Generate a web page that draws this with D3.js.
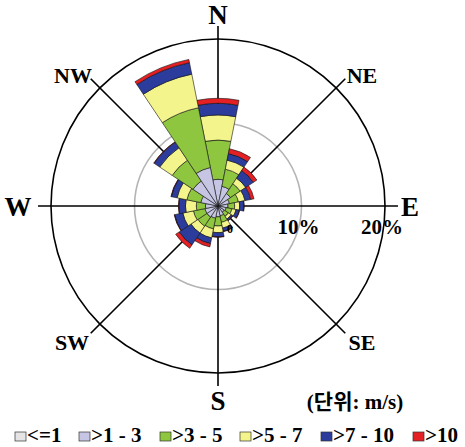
<!DOCTYPE html>
<html><head><meta charset="utf-8">
<script src="https://cdn.jsdelivr.net/npm/d3@7"></script>
<style>html,body{margin:0;padding:0;background:#fff;}svg{display:block;}</style>
</head><body>
<script>
const directions = ["N","NNE","NE","ENE","E","ESE","SE","SSE","S","SSW","SW","WSW","W","WNW","NW","NNW"];
const speedBins = ["<=1", ">1 - 3", ">3 - 5", ">5 - 7", ">7 - 10", ">10"];
const binColors = ["#e4e4e4", "#c6c6e4", "#8fc640", "#f4f48c", "#2c3c9c", "#e42024"];
// frequency (%) per direction for each speed bin
const s_le1   = [0.2,0.2,0.2,0.2,0.2,0.2,0.2,0.2,0.2,0.2,0.2,0.2,0.2,0.2,0.2,0.2];
const s_1_3   = [3.0,2.2,1.6,1.2,1.0,0.8,0.7,1.0,1.1,1.3,1.4,1.4,1.3,1.9,3.4,4.5];
const s_3_5   = [4.7,2.1,1.4,1.1,0.8,0.7,0.6,0.8,1.1,1.3,1.3,1.4,1.1,1.7,3.0,7.3];
const s_5_7   = [3.0,1.1,0.8,0.8,0.6,0.5,0.4,0.7,0.8,1.1,1.0,1.3,1.3,1.2,1.8,4.1];
const s_7_10  = [1.4,0.8,1.1,0.7,0.5,0.4,0.2,0.4,0.5,0.7,1.7,1.0,0.8,0.7,0.8,1.4];
const s_gt10  = [0.6,0.6,0.5,0.4,0.05,0.05,0.05,0.05,0.05,0.4,0.5,0.05,0.05,0.05,0.05,0.4];
const series = [s_le1, s_1_3, s_3_5, s_5_7, s_7_10, s_gt10];
const ringTicks = [10, 20];
const ringLabels = ["10%", "20%"];
const compass = [
  {name:"N", angle:0, big:true}, {name:"NE", angle:45}, {name:"E", angle:90, big:true}, {name:"SE", angle:135},
  {name:"S", angle:180, big:true}, {name:"SW", angle:225}, {name:"W", angle:270, big:true}, {name:"NW", angle:315}
];
const unitLabel = "(단위: m/s)";

const W = 465, H = 447, cx = 218, cy = 206;
const svg = d3.select("body").append("svg").attr("width", W).attr("height", H);
const serif = "'Liberation Serif','Times New Roman',serif";
const r = d3.scaleLinear().domain([0, 20]).range([0, 167]);
const g = svg.append("g").attr("transform", `translate(${cx},${cy})`);

// grey 10% ring, black 20% ring
g.append("circle").attr("r", r(10)).attr("fill", "none").attr("stroke", "#b4b4b4").attr("stroke-width", 1.6);
g.append("circle").attr("r", r(20)).attr("fill", "none").attr("stroke", "#000").attr("stroke-width", 1.6);

// compass lines
const lineLen = 180;
compass.forEach(c => {
  const a = c.angle * Math.PI / 180;
  g.append("line").attr("x1", 0).attr("y1", 0)
    .attr("x2", lineLen * Math.sin(a)).attr("y2", -lineLen * Math.cos(a))
    .attr("stroke", "#000").attr("stroke-width", 1.6);
});

// stacked sectors
const step = 360 / directions.length;
const arc = d3.arc();
directions.forEach((d, i) => {
  let cum = 0;
  const a0 = (i * step - step / 2) * Math.PI / 180, a1 = (i * step + step / 2) * Math.PI / 180;
  series.forEach((s, k) => {
    const v0 = cum; cum += s[i];
    g.append("path")
      .attr("d", arc({innerRadius: r(v0), outerRadius: r(cum), startAngle: a0, endAngle: a1}))
      .attr("fill", binColors[k]).attr("stroke", "#111").attr("stroke-width", 0.6);
  });
});

// ring labels
ringTicks.forEach((t, i) => {
  g.append("text").attr("x", r(t) - 3).attr("y", 28).attr("text-anchor", "middle")
    .attr("font-family", serif).attr("font-weight", "bold").attr("font-size", 21).text(ringLabels[i]);
});
g.append("text").attr("x", 12).attr("y", 27).attr("text-anchor", "middle")
  .attr("font-family", serif).attr("font-weight", "bold").attr("font-size", 12).text("0");

// compass labels
const labelPos = {N:[218,24], NE:[362,83], E:[410,216], SE:[362,350], S:[218,410], SW:[72,350], W:[18,216], NW:[73,83]};
compass.forEach(c => {
  const p = labelPos[c.name];
  svg.append("text").attr("x", p[0]).attr("y", p[1]).attr("text-anchor", "middle")
    .attr("font-family", serif).attr("font-weight", "bold").attr("font-size", c.big ? 27 : 22).text(c.name);
});

// unit label
svg.append("text").attr("x", 355).attr("y", 409).attr("text-anchor", "middle")
  .attr("font-family", "'Liberation Serif','Noto Sans CJK KR',serif").attr("font-weight", "bold")
  .attr("font-size", 21).text(unitLabel);

// legend
const legX = [15, 79, 160, 240, 321, 413];
speedBins.forEach((b, k) => {
  svg.append("rect").attr("x", legX[k]).attr("y", 432).attr("width", 11).attr("height", 9)
    .attr("fill", binColors[k]).attr("stroke", "#333").attr("stroke-width", 0.7);
  svg.append("text").attr("x", legX[k] + 12).attr("y", 442)
    .attr("font-family", serif).attr("font-weight", "bold").attr("font-size", 21).text(b);
});
</script>
</body></html>
